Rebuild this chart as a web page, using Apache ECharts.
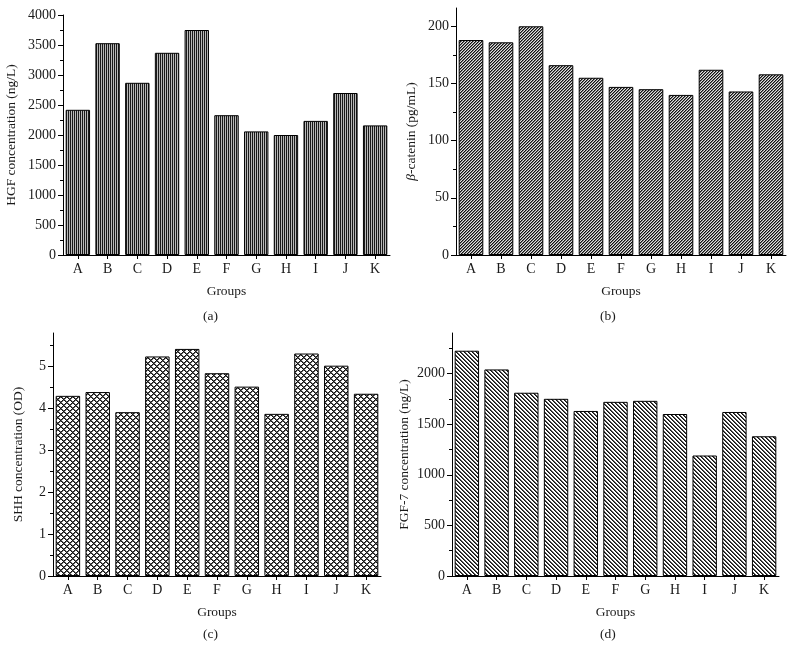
<!DOCTYPE html>
<html>
<head>
<meta charset="utf-8">
<script src="https://cdn.jsdelivr.net/npm/echarts@6/dist/echarts.min.js"></script>
<style>
html,body{margin:0;padding:0;background:#fff;}
#chart{width:795px;height:651px;}
</style>
</head>
<body>
<div id="chart"></div>
<script>
// ---- data ----
var groups = ['A','B','C','D','E','F','G','H','I','J','K'];
var hgfValues = [2420, 3530, 2870, 3370, 3750, 2330, 2060, 2000, 2235, 2700, 2160];
var betaCateninValues = [188, 186, 200, 166, 155, 147, 145, 140, 162, 143, 158];
var shhValues = [4.30, 4.39, 3.91, 5.24, 5.42, 4.84, 4.52, 3.87, 5.31, 5.02, 4.35];
var fgf7Values = [2225, 2040, 1810, 1750, 1630, 1720, 1730, 1600, 1190, 1620, 1380];

var hgfTicks = [0, 500, 1000, 1500, 2000, 2500, 3000, 3500, 4000];
var betaTicks = [0, 50, 100, 150, 200];
var shhTicks = [0, 1, 2, 3, 4, 5];
var fgfTicks = [0, 500, 1000, 1500, 2000];

var hgfMinor = [250, 750, 1250, 1750, 2250, 2750, 3250, 3750];
var betaMinor = [25, 75, 125, 175];
var shhMinor = [0.5, 1.5, 2.5, 3.5, 4.5, 5.5];
var fgfMinor = [250, 750, 1250, 1750, 2250];

// ---- patterns ----
function makePattern(w, h, fn) {
  var c = document.createElement('canvas');
  c.width = w; c.height = h;
  var ctx = c.getContext('2d');
  for (var x = 0; x < w; x++) {
    for (var y = 0; y < h; y++) {
      ctx.fillStyle = fn(x, y);
      ctx.fillRect(x, y, 1, 1);
    }
  }
  return c;
}
var patA = makePattern(2, 2, function (x, y) { return x === 0 ? '#1a1a1a' : '#b8b8b8'; });
var patB = makePattern(3, 3, function (x, y) {
  var k = (x + y) % 3;
  return k === 0 ? '#111' : (k === 1 ? '#777' : '#e0e0e0');
});
var patC = makePattern(6, 6, function (x, y) {
  var a = (x + y) % 6, b = (x - y + 12) % 6;
  if (a === 0 || b === 0) return '#111';
  if (a === 1 || b === 1) return '#666';
  return '#fff';
});
var patD = makePattern(4, 4, function (x, y) {
  var k = (x - y + 8) % 4;
  return k === 0 ? '#111' : (k === 1 ? '#555' : '#fff');
});

var FONT = 'Liberation Serif';
var TXT = '#1a1a1a';

var grids = [
  {left: 63, right: 405, top: 15, bottom: 396},
  {left: 456, right: 9, top: 8, bottom: 396},
  {left: 53, right: 414, top: 333, bottom: 75},
  {left: 452, right: 16, top: 333, bottom: 75}
];

function plain(v) { return String(v); }

function xAx(i) {
  return {
    type: 'category', gridIndex: i, data: groups,
    name: 'Groups', nameLocation: 'middle', nameGap: 29,
    nameTextStyle: {fontFamily: FONT, fontSize: 13.5, color: TXT},
    axisLine: {lineStyle: {color: '#000', width: 1}},
    axisTick: {show: true, alignWithLabel: true, length: 4, lineStyle: {color: '#000'}},
    axisLabel: {fontFamily: FONT, fontSize: 14, color: TXT, margin: 7},
    splitLine: {show: false}
  };
}
function yAx(i, max, ticks, name, gap, rich) {
  var o = {
    type: 'value', gridIndex: i, min: 0, max: max, position: 'left',
    name: name, nameLocation: 'middle', nameGap: gap,
    nameTextStyle: {fontFamily: FONT, fontSize: 13.5, color: TXT},
    axisLine: {show: true, lineStyle: {color: '#000', width: 1}},
    axisTick: {show: true, length: 5, customValues: ticks, lineStyle: {color: '#000'}},
    axisLabel: {fontFamily: FONT, fontSize: 14, color: TXT, margin: 7, customValues: ticks, formatter: plain},
    splitLine: {show: false}
  };
  if (rich) o.nameTextStyle.rich = rich;
  return o;
}
function yMinor(i, max, ticks) {
  return {
    type: 'value', gridIndex: i, min: 0, max: max, position: 'left', offset: 0,
    axisLine: {show: false},
    axisTick: {show: true, length: 3, customValues: ticks, lineStyle: {color: '#000'}},
    axisLabel: {show: false},
    splitLine: {show: false}
  };
}
function bar(i, yi, data, pat) {
  return {
    type: 'bar', xAxisIndex: i, yAxisIndex: yi, data: data,
    barCategoryGap: '18%',
    itemStyle: {color: {image: pat, repeat: 'repeat'}, borderColor: '#000', borderWidth: 1},
    emphasis: {disabled: true},
    animation: false
  };
}

var chart = echarts.init(document.getElementById('chart'), null, {renderer: 'canvas'});
chart.setOption({
  backgroundColor: '#fff',
  animation: false,
  grid: grids,
  xAxis: [xAx(0), xAx(1), xAx(2), xAx(3)],
  yAxis: [
    yAx(0, 4000, hgfTicks, 'HGF concentration (ng/L)', 45),
    yMinor(0, 4000, hgfMinor),
    yAx(1, 216, betaTicks, '{i|β}-catenin (pg/mL)', 38, {i: {fontFamily: FONT, fontSize: 13.5, fontStyle: 'italic', color: TXT}}),
    yMinor(1, 216, betaMinor),
    yAx(2, 5.8, shhTicks, 'SHH concentration (OD)', 28),
    yMinor(2, 5.8, shhMinor),
    yAx(3, 2400, fgfTicks, 'FGF-7 concentration (ng/L)', 41),
    yMinor(3, 2400, fgfMinor)
  ],
  series: [
    bar(0, 0, hgfValues, patA),
    bar(1, 2, betaCateninValues, patB),
    bar(2, 4, shhValues, patC),
    bar(3, 6, fgf7Values, patD)
  ],
  graphic: [
    {type: 'text', left: 203, top: 309, style: {text: '(a)', font: '13.5px "Liberation Serif"', fill: TXT}},
    {type: 'text', left: 600, top: 309, style: {text: '(b)', font: '13.5px "Liberation Serif"', fill: TXT}},
    {type: 'text', left: 203, top: 627, style: {text: '(c)', font: '13.5px "Liberation Serif"', fill: TXT}},
    {type: 'text', left: 600, top: 627, style: {text: '(d)', font: '13.5px "Liberation Serif"', fill: TXT}}
  ]
});
</script>
</body>
</html>
